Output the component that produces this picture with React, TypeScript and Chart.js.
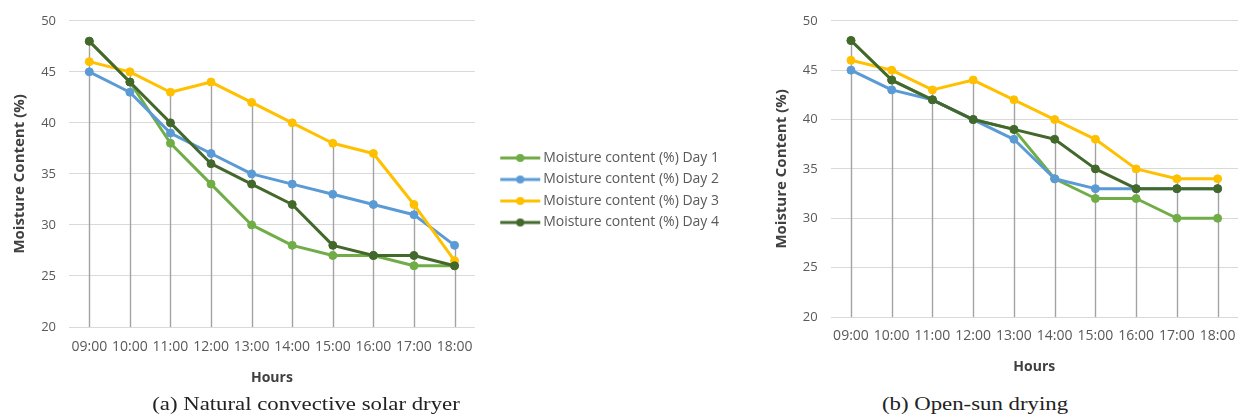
import React, { useEffect, useRef } from 'react';
import { Chart, registerables } from 'chart.js';

Chart.register(...registerables);

const hours = ['09:00', '10:00', '11:00', '12:00', '13:00', '14:00', '15:00', '16:00', '17:00', '18:00'];
const seriesLabels = [
  'Moisture content (%) Day 1',
  'Moisture content (%) Day 2',
  'Moisture content (%) Day 3',
  'Moisture content (%) Day 4',
];
const seriesColors = ['#70AD47', '#5B9BD5', '#FFC000', '#43682B'];

// (a) Natural convective solar dryer
const dryerDay1 = [48, 44, 38, 34, 30, 28, 27, 27, 26, 26];
const dryerDay2 = [45, 43, 39, 37, 35, 34, 33, 32, 31, 28];
const dryerDay3 = [46, 45, 43, 44, 42, 40, 38, 37, 32, 26.5];
const dryerDay4 = [48, 44, 40, 36, 34, 32, 28, 27, 27, 26];

// (b) Open-sun drying
const sunDay1 = [48, 44, 42, 40, 39, 34, 32, 32, 30, 30];
const sunDay2 = [45, 43, 42, 40, 38, 34, 33, 33, 33, 33];
const sunDay3 = [46, 45, 43, 44, 42, 40, 38, 35, 34, 34];
const sunDay4 = [48, 44, 42, 40, 39, 38, 35, 33, 33, 33];

const yMin = 20;
const yMax = 50;
const yStep = 5;

const yTitle = 'Moisture Content (%)';
const xTitle = 'Hours';
const captionA = '(a) Natural convective solar dryer';
const captionB = '(b) Open-sun drying';

const FONT = "'Open Sans', 'Liberation Sans', sans-serif";
const TEXT = '#595959';
const TITLE = '#404040';
const LEGEND_FONT_SIZE = 14;
const LEGEND_PAD = 7.5;
const POINT_STYLE_W = 53.8;

const dropLines = {
  id: 'dropLines',
  beforeDatasetsDraw(chart: any) {
    const { ctx, chartArea, scales } = chart;
    const x = scales.x;
    const y = scales.y;
    const n = chart.data.labels.length;
    ctx.save();
    ctx.strokeStyle = '#a3a3a3';
    ctx.lineWidth = 1.4;
    for (let i = 0; i < n; i++) {
      const max = Math.max(...chart.data.datasets.map((d: any) => d.data[i]));
      const px = Math.round(x.getPixelForValue(i)) + 0.5;
      const py = y.getPixelForValue(max);
      ctx.beginPath();
      ctx.moveTo(px, py);
      ctx.lineTo(px, chartArea.bottom);
      ctx.stroke();
    }
    ctx.restore();
  },
};

function makeMarker(color: string) {
  const c = document.createElement('canvas');
  c.width = 80;
  c.height = 12;
  const g = c.getContext('2d')!;
  g.strokeStyle = color;
  g.lineWidth = 3;
  g.beginPath();
  g.moveTo(31, 6);
  g.lineTo(71, 6);
  g.stroke();
  g.fillStyle = color;
  g.beginPath();
  g.arc(51, 6, 4, 0, Math.PI * 2);
  g.fill();
  return c;
}

type PanelProps = {
  series: number[][];
  left: number;
  width: number;
  height: number;
  padTop: number;
  padRight: number;
  yAxisWidth: number;
  xAxisHeight: number;
  yTitlePad: number;
  yTickPad: number;
  xTickPad: number;
  xTitlePadBottom: number;
  legend: boolean;
  legendWidth: number;
};

function Panel(p: PanelProps) {
  const ref = useRef<HTMLCanvasElement>(null);
  useEffect(() => {
    const canvas = ref.current!;
    const markers = seriesColors.map(makeMarker);
    const datasets = p.series.map((data, i) => ({
      label: seriesLabels[i],
      data,
      borderColor: seriesColors[i],
      backgroundColor: seriesColors[i],
      pointBackgroundColor: seriesColors[i],
      pointBorderColor: seriesColors[i],
      pointRadius: 4,
      pointBorderWidth: 1,
      borderWidth: 3,
      borderJoinStyle: 'round' as const,
      tension: 0,
      order: 4 - i,
    }));
    const chart = new Chart(canvas, {
      type: 'line',
      data: { labels: hours, datasets },
      plugins: [dropLines],
      options: {
        animation: false,
        responsive: false,
        maintainAspectRatio: false,
        layout: { padding: { top: p.padTop, right: p.padRight, left: 0, bottom: 0 } },
        plugins: {
          tooltip: { enabled: false },
          legend: {
            display: p.legend,
            position: 'right',
            align: 'start',
            maxWidth: p.legendWidth + 20,
            title: { display: true, text: ' ', padding: { top: 111.5, bottom: 0 }, font: { size: 10 } },
            labels: {
              usePointStyle: true,
              pointStyleWidth: POINT_STYLE_W,
              padding: LEGEND_PAD,
              color: TEXT,
              font: { family: FONT, size: LEGEND_FONT_SIZE },
              generateLabels: (ch: any) =>
                ch.data.datasets.map((ds: any, i: number) => ({
                  text: ds.label,
                  pointStyle: markers[i],
                  fillStyle: ds.borderColor,
                  strokeStyle: ds.borderColor,
                  lineWidth: 0,
                  hidden: false,
                  datasetIndex: i,
                  fontColor: TEXT,
                })),
            },
          },
        },
        scales: {
          x: {
            type: 'category',
            offset: true,
            grid: { display: false, drawTicks: false },
            border: { display: false },
            ticks: {
              color: TEXT,
              font: { family: FONT, size: 14 },
              padding: p.xTickPad,
              maxRotation: 0,
              minRotation: 0,
              autoSkip: false,
            },
            title: {
              display: true,
              text: xTitle,
              color: TITLE,
              font: { family: FONT, size: 14, weight: 'bold' },
              padding: { top: 0, bottom: p.xTitlePadBottom },
            },
            afterFit: (s: any) => {
              s.height = p.xAxisHeight;
            },
          },
          y: {
            min: yMin,
            max: yMax,
            grid: { color: '#d9d9d9', lineWidth: 1, drawTicks: false },
            border: { display: false },
            ticks: {
              stepSize: yStep,
              color: TEXT,
              font: { family: FONT, size: 13 },
              padding: p.yTickPad,
            },
            title: {
              display: true,
              text: yTitle,
              color: TITLE,
              font: { family: FONT, size: 15, weight: 'bold' },
              padding: { top: p.yTitlePad, bottom: 0 },
            },
            afterFit: (s: any) => {
              s.width = p.yAxisWidth;
            },
          },
        },
      },
    } as any);
    return () => chart.destroy();
  }, []);
  return (
    <canvas
      ref={ref}
      width={p.width}
      height={p.height}
      style={{ position: 'absolute', left: p.left, top: 0, width: p.width, height: p.height }}
    />
  );
}

function measureLegendText() {
  const c = document.createElement('canvas');
  const g = c.getContext('2d')!;
  g.font = `normal ${LEGEND_FONT_SIZE}px ${FONT}`;
  return Math.max(...seriesLabels.map((t) => g.measureText(t).width));
}

export default function App() {
  const textW = measureLegendText();
  const legendW = LEGEND_PAD + POINT_STYLE_W + LEGEND_FONT_SIZE / 2 + textW + 10;
  const leftWidth = Math.round(474.7 + legendW);
  const captionStyle: React.CSSProperties = {
    position: 'absolute',
    top: 392,
    fontFamily: "'Liberation Serif', 'Times New Roman', serif",
    fontSize: 19,
    color: '#222',
    whiteSpace: 'nowrap',
    transform: 'translateX(-50%) scaleX(1.2)',
    lineHeight: '24px',
  };
  return (
    <div style={{ position: 'absolute', left: 0, top: 0, width: 1251, height: 417, background: '#fff', overflow: 'hidden' }}>
      <Panel
        series={[dryerDay1, dryerDay2, dryerDay3, dryerDay4]}
        left={0}
        width={leftWidth}
        height={395}
        padTop={20}
        padRight={0}
        yAxisWidth={69}
        xAxisHeight={68}
        yTitlePad={11}
        yTickPad={13}
        xTickPad={12}
        xTitlePadBottom={9}
        legend={true}
        legendWidth={legendW}
      />
      <Panel
        series={[sunDay1, sunDay2, sunDay3, sunDay4]}
        left={770}
        width={481}
        height={385}
        padTop={15}
        padRight={13}
        yAxisWidth={60.6}
        xAxisHeight={68}
        yTitlePad={3}
        yTickPad={13}
        xTickPad={11}
        xTitlePadBottom={10}
        legend={false}
        legendWidth={0}
      />
      <div style={{ ...captionStyle, left: 306 }}>{captionA}</div>
      <div style={{ ...captionStyle, left: 975 }}>{captionB}</div>
    </div>
  );
}
